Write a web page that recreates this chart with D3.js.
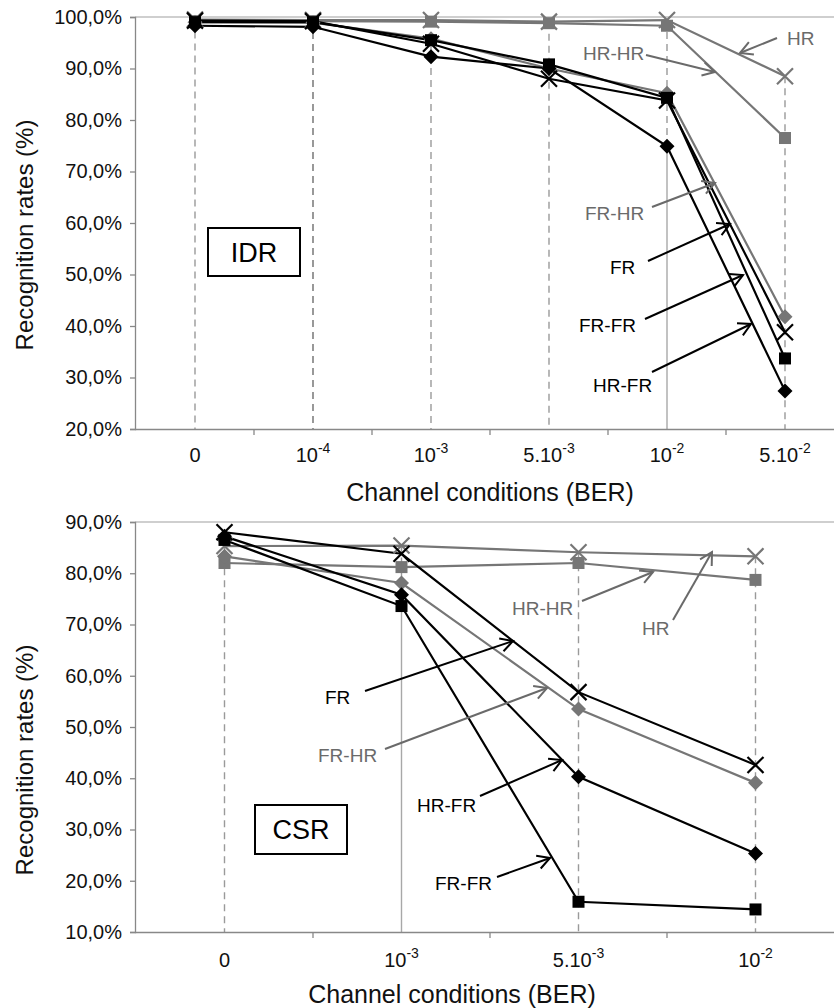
<!DOCTYPE html>
<html><head><meta charset="utf-8">
<script src="https://cdn.jsdelivr.net/npm/d3@7"></script>
<style>
body{margin:0;background:#fff;}
text{font-family:"Liberation Sans",Arial,sans-serif;}
</style></head>
<body><svg id="c" width="834" height="1008"></svg>
<script>
// ---------- DATA ----------
const seriesNames = ["HR","HR-HR","FR-HR","FR","FR-FR","HR-FR"];
const seriesColor = ["gray","gray","gray","black","black","black"];
const seriesMarker = ["x","square","diamond","x","square","diamond"];

// IDR chart
const idrCats = ["0","1e-4","1e-3","5e-3","1e-2","5e-2"];
const idrTickBase = ["0","10","10","5.10","10","5.10"];
const idrTickSup  = ["","-4","-3","-3","-2","-2"];
const idrHR   = [99.5, 99.4, 99.4, 99.1, 99.4, 88.5];
const idrHRHR = [99.2, 99.2, 99.1, 98.8, 98.3, 76.5];
const idrFRHR = [99.0, 98.9, 95.8, 90.0, 85.2, 41.8];
const idrFR   = [99.3, 99.2, 94.8, 88.0, 83.8, 38.8];
const idrFRFR = [99.0, 99.0, 95.5, 90.8, 84.3, 33.7];
const idrHRFR = [98.3, 98.1, 92.3, 90.0, 74.9, 27.4];
const idrYTicks = [20,30,40,50,60,70,80,90,100];

// CSR chart
const csrCats = ["0","1e-3","5e-3","1e-2"];
const csrTickBase = ["0","10","5.10","10"];
const csrTickSup  = ["","-3","-3","-2"];
const csrHR   = [85.3, 85.4, 84.1, 83.3];
const csrHRHR = [82.0, 81.2, 82.0, 78.7];
const csrFRHR = [83.3, 78.1, 53.5, 39.1];
const csrFR   = [88.0, 83.8, 56.8, 42.6];
const csrFRFR = [86.5, 73.6, 15.9, 14.4];
const csrHRFR = [87.2, 75.8, 40.3, 25.3];
const csrYTicks = [10,20,30,40,50,60,70,80,90];

// ---------- LAYOUT ----------
const GRAY = "#767676", TGRAY = "#6a6a6a";
const svg = d3.select("#c");
svg.append("rect").attr("width",834).attr("height",1008).attr("fill","#fff");

const fmt = v => v.toFixed(1).replace(".", ",") + "%";

function drawChart(cfg){
  const g = svg.append("g");
  const x = d3.scaleBand().domain(cfg.cats).range([136, 844]).padding(0);
  const y = d3.scaleLinear().domain(cfg.yDomain).range(cfg.yRange);
  const cx = c => x(c) + x.bandwidth()/2;
  const series = cfg.values.map((vals,i)=>({name:seriesNames[i], color:seriesColor[i]==="gray"?GRAY:"#000", marker:seriesMarker[i], vals}));

  // top gridline
  g.append("line").attr("x1",135).attr("x2",834).attr("y1",y(cfg.yDomain[1])).attr("y2",y(cfg.yDomain[1]))
    .attr("stroke","#a0a0a0").attr("stroke-width",1.2);

  // drop lines
  cfg.cats.forEach((c,ci)=>{
    const vs = series.map(s=>s.vals[ci]);
    const mx = d3.max(vs), mn = d3.min(vs);
    const solid = cfg.solidDrop === ci;
    g.append("line").attr("x1",cx(c)).attr("x2",cx(c)).attr("y1",y(mx)).attr("y2",solid?y(mn):y(cfg.yDomain[0]))
      .attr("stroke", cfg.darkDrop===ci?"#6e6e6e":"#9a9a9a").attr("stroke-width",1.4).attr("stroke-dasharray","7,5");
    if(solid){
      g.append("line").attr("x1",cx(c)).attr("x2",cx(c)).attr("y1",y(mn)).attr("y2",y(cfg.yDomain[0]))
        .attr("stroke","#a8a8a8").attr("stroke-width",1.4);
    }
  });

  // y axis
  const ya = g.append("g").attr("transform","translate(135,0)")
    .call(d3.axisLeft(y).tickValues(cfg.yTicks).tickFormat(fmt).tickSize(5).tickPadding(8));
  ya.select(".domain").attr("stroke","#888").attr("stroke-width",1.3);
  ya.selectAll(".tick line").attr("stroke","#888").attr("stroke-width",1.3);
  ya.selectAll(".tick text").attr("font-size",20).attr("fill","#111").attr("font-family","Liberation Sans, Arial, sans-serif");

  // x axis
  const xa = g.append("g").attr("transform",`translate(0,${y(cfg.yDomain[0])})`)
    .call(d3.axisBottom(x).tickSize(0).tickFormat(""));
  xa.select(".domain").attr("stroke","#888").attr("stroke-width",1.3).attr("d","M135,0.5H844");
  cfg.cats.forEach(c=>{
    if(c===cfg.cats[0]) return;
    xa.append("line").attr("x1",x(c)).attr("x2",x(c)).attr("y1",0).attr("y2",6).attr("stroke","#888").attr("stroke-width",1.3);
  });
  cfg.cats.forEach((c,ci)=>{
    const t = g.append("text").attr("x",cx(c)).attr("y",cfg.tickY).attr("text-anchor","middle")
      .attr("font-size",20).attr("fill","#111");
    t.append("tspan").text(cfg.tickBase[ci]);
    if(cfg.tickSup[ci]) t.append("tspan").attr("font-size",14).attr("dy",-9).text(cfg.tickSup[ci]);
  });

  // titles
  g.append("text").attr("x",cfg.xTitleX).attr("y",cfg.xTitleY).attr("text-anchor","middle")
    .attr("font-size",25).attr("fill","#111").text("Channel conditions (BER)");
  g.append("text").attr("transform",`translate(${cfg.yTitleX},${cfg.yTitleY}) rotate(-90)`)
    .attr("text-anchor","middle").attr("dy","0.35em").attr("font-size",24).attr("fill","#111").text("Recognition rates (%)");

  // lines
  const line = d3.line().x((d,i)=>cx(cfg.cats[i])).y(d=>y(d));
  series.forEach(s=>{
    g.append("path").attr("d",line(s.vals)).attr("fill","none").attr("stroke",s.color).attr("stroke-width",2.2);
  });
  // markers
  series.forEach(s=>{
    s.vals.forEach((v,i)=>{
      const px = cx(cfg.cats[i]), py = y(v);
      if(s.marker==="x"){
        const r=8;
        g.append("path").attr("d",`M${px-r},${py-r}L${px+r},${py+r}M${px-r},${py+r}L${px+r},${py-r}`)
          .attr("stroke",s.color).attr("stroke-width",2.2).attr("fill","none");
      } else if(s.marker==="square"){
        g.append("rect").attr("x",px-6).attr("y",py-6).attr("width",12).attr("height",12).attr("fill",s.color);
      } else {
        g.append("path").attr("d",`M${px},${py-7.5}L${px+7.5},${py}L${px},${py+7.5}L${px-7.5},${py}Z`).attr("fill",s.color);
      }
    });
  });

  // name box
  const b = cfg.box;
  g.append("rect").attr("x",b[0]).attr("y",b[1]).attr("width",b[2]).attr("height",b[3])
    .attr("fill","#fff").attr("stroke","#000").attr("stroke-width",2);
  g.append("text").attr("x",b[0]+b[2]/2).attr("y",b[1]+b[3]/2).attr("dy","0.36em").attr("text-anchor","middle")
    .attr("font-size",27).attr("fill","#000").text(cfg.boxLabel);

  // annotations
  cfg.annots.forEach(a=>{
    const col = a.gray ? TGRAY : "#000";
    g.append("text").attr("x",a.tx).attr("y",a.ty).attr("dy","0.35em").attr("text-anchor","start")
      .attr("font-size",19).attr("fill",col).text(a.label);
    g.append("line").attr("x1",a.x1).attr("y1",a.y1).attr("x2",a.x2).attr("y2",a.y2)
      .attr("stroke",col).attr("stroke-width",2);
    const ang = Math.atan2(a.y2-a.y1, a.x2-a.x1), L=14, sp=0.5;
    const p1=[a.x2-L*Math.cos(ang-sp), a.y2-L*Math.sin(ang-sp)];
    const p2=[a.x2-L*Math.cos(ang+sp), a.y2-L*Math.sin(ang+sp)];
    g.append("path").attr("d",`M${p1[0]},${p1[1]}L${a.x2},${a.y2}L${p2[0]},${p2[1]}`)
      .attr("stroke",col).attr("stroke-width",2).attr("fill","none");
  });
}

drawChart({
  cats: idrCats, tickBase: idrTickBase, tickSup: idrTickSup,
  values: [idrHR, idrHRHR, idrFRHR, idrFR, idrFRFR, idrHRFR],
  yDomain:[20,100], yRange:[429,17], yTicks: idrYTicks,
  solidDrop:4, darkDrop:1,
  tickY:462, xTitleX:490, xTitleY:501, yTitleX:25, yTitleY:235,
  box:[208,228,92,48], boxLabel:"IDR",
  annots:[
    {label:"HR", gray:true, tx:787, ty:38, x1:777, y1:38, x2:740, y2:53},
    {label:"HR-HR", gray:true, tx:583, ty:53, x1:646, y1:55, x2:715, y2:72},
    {label:"FR-HR", gray:true, tx:585, ty:213, x1:652, y1:207, x2:715, y2:183},
    {label:"FR", gray:false, tx:610, ty:267, x1:648, y1:261, x2:730, y2:224},
    {label:"FR-FR", gray:false, tx:579, ty:325, x1:645, y1:319, x2:743, y2:275},
    {label:"HR-FR", gray:false, tx:593, ty:385, x1:652, y1:372, x2:751, y2:324}
  ]
});

drawChart({
  cats: csrCats, tickBase: csrTickBase, tickSup: csrTickSup,
  values: [csrHR, csrHRHR, csrFRHR, csrFR, csrFRFR, csrHRFR],
  yDomain:[10,90], yRange:[932,522], yTicks: csrYTicks,
  solidDrop:1, darkDrop:-1,
  tickY:967, xTitleX:452, xTitleY:1003, yTitleX:25, yTitleY:760,
  box:[255,805,92,49], boxLabel:"CSR",
  annots:[
    {label:"FR", gray:false, tx:325, ty:697, x1:365, y1:691, x2:513, y2:641},
    {label:"FR-HR", gray:true, tx:318, ty:755, x1:385, y1:749, x2:547, y2:688},
    {label:"HR-HR", gray:true, tx:512, ty:608, x1:582, y1:601, x2:653, y2:572},
    {label:"HR", gray:true, tx:642, ty:628, x1:673, y1:620, x2:712, y2:552},
    {label:"HR-FR", gray:false, tx:417, ty:805, x1:480, y1:796, x2:562, y2:760},
    {label:"FR-FR", gray:false, tx:435, ty:883, x1:497, y1:877, x2:550, y2:858}
  ]
});
</script></body></html>
